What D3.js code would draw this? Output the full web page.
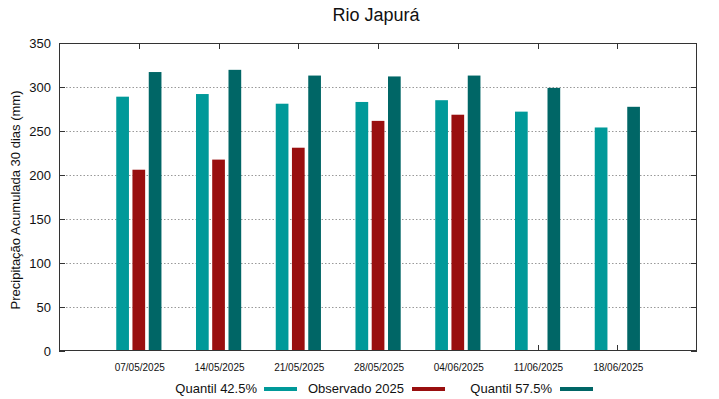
<!DOCTYPE html>
<html><head><meta charset="utf-8">
<script src="https://cdn.jsdelivr.net/npm/d3@7"></script>
<style>body{margin:0;background:#fff}svg{display:block;font-family:"Liberation Sans",Arial,sans-serif}</style>
</head><body><svg id="c" width="719" height="399"></svg>
<script>
const categories = ["07/05/2025","14/05/2025","21/05/2025","28/05/2025","04/06/2025","11/06/2025","18/06/2025"];
const q425 = [289, 292, 281, 283, 285, 272, 254];
const observado = [206, 217.5, 231, 261.5, 268.5, null, null];
const q575 = [317, 319.5, 313, 312, 313, 299, 277.5];
const yTicks = [0,50,100,150,200,250,300,350];
const seriesNames = ["Quantil 42.5%","Observado 2025","Quantil 57.5%"];
const colors = ["#009999","#990f0f","#006666"];

const svg = d3.select("#c");
const L=59,R=697,T=43,B=351;
const x = d3.scaleLinear().domain([0,8]).range([L,R]);
const y = d3.scaleLinear().domain([0,350]).range([B,T]);

// grid
svg.append("g").selectAll("line").data(yTicks.slice(1,-1)).join("line")
  .attr("x1",L).attr("x2",R).attr("y1",d=>y(d)+0.5).attr("y2",d=>y(d)+0.5)
  .attr("stroke","#999").attr("stroke-dasharray","1.5,2").attr("stroke-width",1);

// x ticks (behind bars)
categories.forEach((c,i)=>{
  const xx=Math.round(x(i+1))+0.5;
  svg.append("line").attr("x1",xx).attr("x2",xx).attr("y1",T).attr("y2",T+6).attr("stroke","#333");
  svg.append("line").attr("x1",xx).attr("x2",xx).attr("y1",B-6).attr("y2",B).attr("stroke","#333");
  svg.append("text").attr("x",x(i+1)+1).attr("y",371).attr("text-anchor","middle")
    .attr("font-size",10).attr("fill","#111").text(c);
});

const series=[q425,observado,q575];
const bw=12.7, off=[-22.5,-6.3,10];
series.forEach((s,si)=>{
  svg.append("g").selectAll("rect").data(s.map((v,i)=>({v,i})).filter(d=>d.v!=null)).join("rect")
    .attr("x",d=>x(d.i+1)+off[si]).attr("width",bw)
    .attr("y",d=>y(d.v)).attr("height",d=>y(0)-y(d.v))
    .attr("fill",colors[si]);
});

// frame
svg.append("rect").attr("x",L+0.5).attr("y",T+0.5).attr("width",R-L-1).attr("height",B-T-1)
  .attr("fill","none").attr("stroke","#333").attr("stroke-width",1);

// y axis ticks
const ya = svg.append("g");
yTicks.forEach(t=>{
  ya.append("line").attr("x1",L).attr("x2",L+6).attr("y1",y(t)+0.5).attr("y2",y(t)+0.5).attr("stroke","#333");
  ya.append("line").attr("x1",R-6).attr("x2",R).attr("y1",y(t)+0.5).attr("y2",y(t)+0.5).attr("stroke","#333");
  ya.append("text").attr("x",L-8).attr("y",y(t)+5).attr("text-anchor","end")
    .attr("font-size",13).attr("fill","#111").text(t);
});

svg.append("text").attr("transform","translate(20,200) rotate(-90)").attr("text-anchor","middle")
  .attr("font-size",13).attr("fill","#111").text("Precipitação Acumulada 30 dias (mm)");
svg.append("text").attr("x",376).attr("y",21).attr("text-anchor","middle")
  .attr("font-size",18).attr("fill","#111").text("Rio Japurá");

// legend
const lg=[{tx:257,sx:264},{tx:404,sx:412},{tx:552,sx:560}];
seriesNames.forEach((n,i)=>{
  svg.append("text").attr("x",lg[i].tx).attr("y",393).attr("text-anchor","end")
    .attr("font-size",13).attr("fill","#111").text(n);
  svg.append("rect").attr("x",lg[i].sx).attr("y",387).attr("width",33).attr("height",4).attr("fill",colors[i]);
});
</script></body></html>
